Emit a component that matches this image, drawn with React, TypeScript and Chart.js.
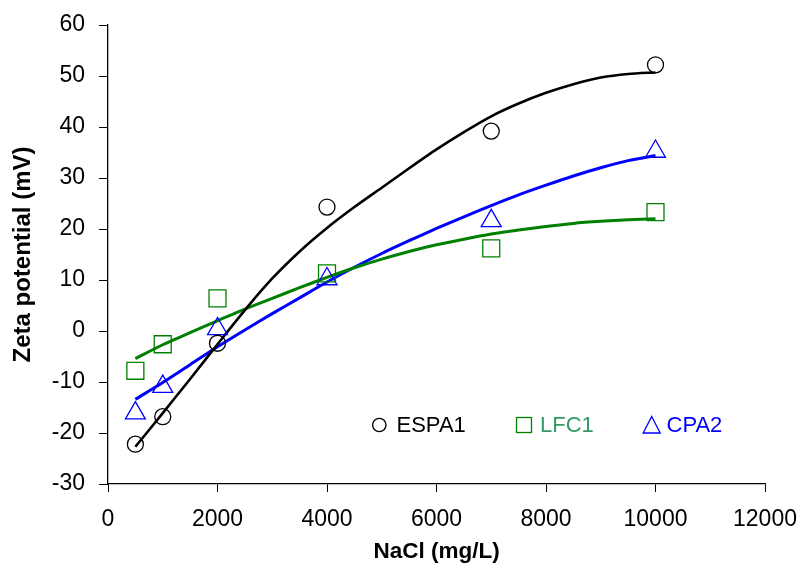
import React, { useEffect, useRef } from "react";
import { Chart, registerables } from "chart.js";

Chart.register(...registerables);

const nacl = [500, 1000, 2000, 4000, 7000, 10000];
const espa1 = [-22.2, -16.8, -2.4, 24.3, 39.2, 52.2];
const lfc1 = [-7.8, -2.6, 6.4, 11.3, 16.2, 23.3];
const cpa2 = [-16.1, -10.9, 0.4, 10.2, 21.6, 35.2];

const fitX = [500, 1000, 1500, 2000, 2500, 3000, 3500, 4000, 4500, 5000, 5500, 6000, 6500, 7000, 7500, 8000, 8500, 9000, 9500, 10000];
const fitEspa1 = [-22.7, -16.1, -9.4, -2.6, 4.1, 10.3, 15.6, 20.2, 24.3, 28.1, 31.9, 35.6, 39.0, 42.1, 44.6, 46.7, 48.4, 49.7, 50.4, 50.7];
const fitLfc1 = [-5.4, -2.7, -0.3, 2.0, 4.3, 6.4, 8.5, 10.5, 12.4, 14.1, 15.6, 16.9, 18.0, 19.0, 19.8, 20.5, 21.1, 21.5, 21.8, 22.0];
const fitCpa2 = [-13.4, -10.1, -6.6, -3.1, 0.2, 3.4, 6.5, 9.6, 12.5, 15.2, 17.7, 20.1, 22.4, 24.6, 26.7, 28.6, 30.4, 32.0, 33.4, 34.4];

const legendLabels = ["ESPA1", "LFC1", "CPA2"];
const xTicks = [0, 2000, 4000, 6000, 8000, 10000, 12000];

const FONT = "'Liberation Sans', Arial, sans-serif";

const pts = (xs: number[], ys: number[]) => xs.map((x, i) => ({ x, y: ys[i] }));

const legendPlugin = {
  id: "insideLegend",
  afterDraw(chart: any) {
    const { ctx, chartArea } = chart;
    const y = chartArea.top + 400;
    ctx.save();
    ctx.font = `22px ${FONT}`;
    ctx.textBaseline = "middle";
    ctx.textAlign = "left";
    ctx.lineWidth = 1.3;
    ctx.strokeStyle = "#000000";
    ctx.beginPath();
    ctx.arc(379.3, y, 6.7, 0, Math.PI * 2);
    ctx.stroke();
    ctx.fillStyle = "#000000";
    ctx.fillText(legendLabels[0], 396.5, y + 1);
    ctx.strokeStyle = "#008000";
    ctx.strokeRect(516.5, y - 7.5, 15, 15);
    ctx.fillStyle = "#339966";
    ctx.fillText(legendLabels[1], 540, y + 1);
    ctx.strokeStyle = "#0000ff";
    ctx.beginPath();
    ctx.moveTo(651.7, y - 8.5);
    ctx.lineTo(660.2, y + 8);
    ctx.lineTo(643.2, y + 8);
    ctx.closePath();
    ctx.stroke();
    ctx.fillStyle = "#0000ff";
    ctx.fillText(legendLabels[2], 666.5, y + 1);
    ctx.restore();
  },
};

export default function App() {
  const ref = useRef<HTMLCanvasElement>(null);
  useEffect(() => {
    if (!ref.current) return;
    const fitStyle = (color: string, width: number) => ({
      showLine: true,
      borderColor: color,
      borderWidth: width,
      pointRadius: 0,
      tension: 0.25,
      order: 2,
    });
    const markStyle = (style: string, radius: number, color: string) => ({
      pointStyle: style,
      pointRadius: radius,
      borderColor: color,
      backgroundColor: "rgba(0,0,0,0)",
      borderWidth: 1.3,
      order: 1,
    });
    const chart = new Chart(ref.current, {
      type: "scatter",
      data: {
        datasets: [
          { label: "ESPA1 fit", data: pts(fitX, fitEspa1), ...fitStyle("#000000", 2.6) },
          { label: "LFC1 fit", data: pts(fitX, fitLfc1), ...fitStyle("#008000", 3) },
          { label: "CPA2 fit", data: pts(fitX, fitCpa2), ...fitStyle("#0000ff", 3) },
          { label: "ESPA1", data: pts(nacl, espa1), ...markStyle("circle", 8, "#000000") },
          { label: "LFC1", data: pts(nacl, lfc1), ...markStyle("rect", 12, "#008000") },
          { label: "CPA2", data: pts(nacl, cpa2), ...markStyle("triangle", 11.5, "#0000ff") },
        ],
      },
      options: {
        responsive: false,
        animation: false,
        layout: { padding: { top: 25, right: 38, left: 0, bottom: 0 } },
        plugins: { legend: { display: false }, tooltip: { enabled: false } },
        scales: {
          x: {
            type: "linear",
            min: 0,
            max: 12000,
            afterBuildTicks: (scale: any) => {
              scale.ticks = xTicks.map((v) => ({ value: v }));
            },
            afterFit: (scale: any) => {
              scale.height = 81;
              scale.paddingLeft = 0;
              scale.paddingRight = 0;
            },
            ticks: {
              color: "#000000",
              font: { family: FONT, size: 23 },
              padding: 14,
              maxRotation: 0,
              autoSkip: false,
              callback: (v: any) => String(v),
            },
            grid: {
              display: true,
              drawOnChartArea: false,
              drawTicks: true,
              tickLength: 8,
              color: "#000000",
            },
            border: { display: true, color: "#000000", width: 1.3 },
            title: {
              display: true,
              text: "NaCl (mg/L)",
              color: "#000000",
              font: { family: FONT, size: 22.5, weight: "bold" },
              padding: { top: 0, bottom: 0 },
            },
          },
          y: {
            type: "linear",
            min: -30,
            max: 60,
            afterFit: (scale: any) => {
              scale.width = 108;
              scale.paddingTop = 0;
              scale.paddingBottom = 0;
            },
            ticks: {
              stepSize: 10,
              color: "#000000",
              font: { family: FONT, size: 23 },
              padding: 14,
              callback: (v: any) => String(v),
            },
            grid: {
              display: true,
              drawOnChartArea: false,
              drawTicks: true,
              tickLength: 9,
              color: "#000000",
            },
            border: { display: true, color: "#000000", width: 1.3 },
            title: {
              display: true,
              text: "Zeta potential (mV)",
              color: "#000000",
              font: { family: FONT, size: 24, weight: "bold" },
              padding: { top: 9, bottom: 0 },
            },
          },
        },
      },
      plugins: [legendPlugin],
    } as any);
    return () => chart.destroy();
  }, []);
  return (
    <div style={{ position: "fixed", left: 0, top: 0, width: 803, height: 565, background: "#ffffff" }}>
      <canvas ref={ref} width={803} height={565} style={{ display: "block" }} />
    </div>
  );
}
